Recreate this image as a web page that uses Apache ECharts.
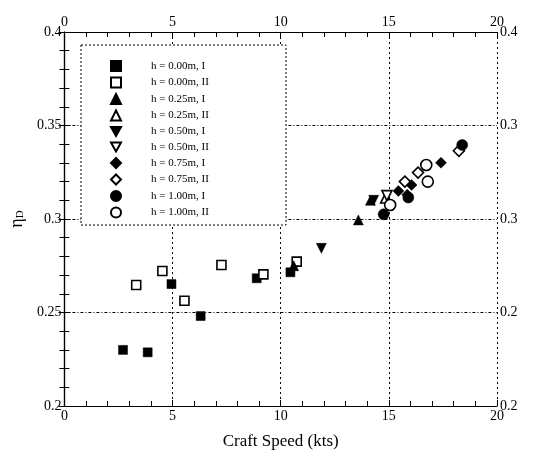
<!DOCTYPE html>
<html><head><meta charset="utf-8">
<script src="https://cdn.jsdelivr.net/npm/echarts@6/dist/echarts.min.js"></script>
<style>html,body{margin:0;padding:0;background:#fff}#c{width:539px;height:456px}</style>
</head><body><div id="c"></div>
<script>
const xTicks = [0, 5, 10, 15, 20];
const yTicks = [0.2, 0.25, 0.3, 0.35, 0.4];
const seriesNames = ['h = 0.00m, I','h = 0.00m, II','h = 0.25m, I','h = 0.25m, II','h = 0.50m, I','h = 0.50m, II','h = 0.75m, I','h = 0.75m, II','h = 1.00m, I','h = 1.00m, II'];
const h000_I = [[2.71,0.230],[3.85,0.2287],[4.95,0.2652],[6.30,0.2481],[8.89,0.2683],[10.45,0.2715]];
const h000_II = [[3.32,0.2647],[4.53,0.2722],[5.55,0.2563],[7.26,0.2754],[9.20,0.2704],[10.74,0.2772]];
const h025_I = [[10.6,0.2750],[13.59,0.2995],[14.15,0.3100]];
const h025_II = [[14.85,0.3112]];
const h050_I = [[11.88,0.2843],[14.30,0.3100]];
const h050_II = [[14.91,0.3125]];
const h075_I = [[15.44,0.3150],[15.85,0.3130],[16.05,0.3182],[17.41,0.3301]];
const h075_II = [[15.74,0.3200],[16.35,0.3248],[18.24,0.3365]];
const h100_I = [[14.76,0.3025],[15.90,0.3115],[18.39,0.3396]];
const h100_II = [[15.06,0.3075],[16.73,0.3289],[16.80,0.3200]];

const seriesData = [h000_I,h000_II,h025_I,h025_II,h050_I,h050_II,h075_I,h075_II,h100_I,h100_II];
const symbols = ['rect','rect','triangle','triangle','triangle','triangle','diamond','diamond','circle','circle'];
const rotates = [0,0,0,0,180,180,0,0,0,0];
const filled = [true,false,true,false,true,false,true,false,true,false];
const sizes = [9,9,10,10,10,10,11,11,11,11];
const DOWN_TRI = 'path://M0,0L10,0L5,9Z';

const FONT = 'Liberation Serif';
const chart = echarts.init(document.getElementById('c'), null, {renderer:'canvas'});

const xBase = {
  type:'value', min:0, max:20, interval:5,
  axisLine:{show:true, lineStyle:{color:'#000', width:1.2}},
  axisTick:{show:true, inside:true, length:6, lineStyle:{color:'#000'}},
  minorTick:{show:true, splitNumber:5, length:5, lineStyle:{color:'#000'}},
  axisLabel:{color:'#000', fontFamily:FONT, fontSize:14, margin:3,
    formatter: v => xTicks.includes(v) ? String(v) : ''},
};
const yBase = {
  type:'value', min:0.2, max:0.4, interval:0.05,
  axisLine:{show:true, lineStyle:{color:'#000', width:1.2}},
  axisTick:{show:true, inside:true, length:6, lineStyle:{color:'#000'}},
  minorTick:{show:true, splitNumber:5, length:5, lineStyle:{color:'#000'}},
};

const option = {
  backgroundColor:'#fff',
  animation:false,
  grid:{left:57, right:42, top:32, bottom:50, containLabel:false},
  xAxis:[
    Object.assign({}, xBase, {position:'bottom',
      name:'Craft Speed (kts)', nameLocation:'middle', nameGap:27,
      nameTextStyle:{color:'#000', fontFamily:FONT, fontSize:17},
      splitLine:{show:true, lineStyle:{color:'#000', type:[2,3], width:1}}}),
    Object.assign({}, xBase, {position:'top', splitLine:{show:false}})
  ],
  yAxis:[
    Object.assign({}, yBase, {position:'left',
      name:'{e|η}{s|D}', nameLocation:'middle', nameGap:36, nameRotate:90,
      nameTextStyle:{rich:{e:{fontFamily:FONT, fontSize:18, color:'#000'}, s:{fontFamily:FONT, fontSize:11, color:'#000', verticalAlign:'bottom'}}},
      axisLabel:{color:'#000', fontFamily:FONT, fontSize:14, margin:3,
        formatter: v => { const t = yTicks.find(k => Math.abs(k - v) < 1e-9); return t === undefined ? '' : String(t); }},
      splitLine:{show:true, lineStyle:{color:'#000', type:[3,2,1,2], width:1}}}),
    Object.assign({}, yBase, {position:'right',
      axisLabel:{color:'#000', fontFamily:FONT, fontSize:14, margin:3,
        formatter: v => v.toFixed(2).slice(0,3)},
      splitLine:{show:false}})
  ],
  legend:{
    show:true, orient:'vertical', left:110, top:60, padding:0,
    itemWidth:10, itemHeight:10, itemGap:4.5,
    textStyle:{fontFamily:FONT, fontSize:11, color:'#000', lineHeight:10, padding:[0,0,0,25]},
    data: seriesNames.map((n,i) => rotates[i] ? {name:n, icon:DOWN_TRI} : {name:n})
  },
  graphic:[{type:'rect', shape:{x:81, y:45, width:205, height:180}, z:1,
    style:{fill:'#fff', stroke:'#000', lineWidth:1, lineDash:[2,2]}}],
  series: seriesNames.map((n,i) => ({
    name:n, type:'scatter', xAxisIndex:0, yAxisIndex:0,
    symbol:symbols[i], symbolSize:sizes[i], symbolRotate:rotates[i],
    data: seriesData[i],
    itemStyle: filled[i] ? {color:'#000', borderColor:'#000', borderWidth:0.5, opacity:1}
                         : {color:'#fff', borderColor:'#000', borderWidth:1.6, opacity:1},
    emphasis:{disabled:true}
  }))
};
chart.setOption(option);
</script></body></html>
